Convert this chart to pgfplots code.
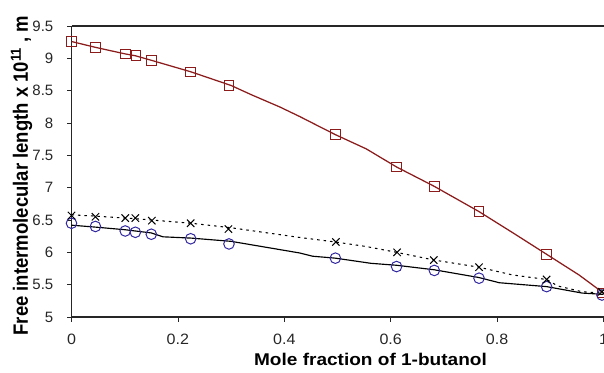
\documentclass[border=0pt]{standalone}
\usepackage{pgfplots}
\pgfplotsset{compat=1.18}
\usepackage{fontspec}
\setmainfont{Liberation Sans}
\definecolor{redline}{RGB}{140,28,28}
\definecolor{bluemark}{RGB}{50,40,160}
\begin{document}
\begin{tikzpicture}
\useasboundingbox (0,0) rectangle (604bp,373bp);
\begin{axis}[
  at={(71.5bp,56bp)}, anchor=south west,
  scale only axis, width=532bp, height=291bp,
  xmin=0, xmax=1, ymin=5, ymax=9.5,
  axis x line=bottom, axis y line=left,
  axis line style={-, line width=1.1bp, black!85},
  clip=false,
  xtick={0,0.2,0.4,0.6,0.8,1},
  ytick={5,5.5,6,6.5,7,7.5,8,8.5,9,9.5},
  tick align=outside, major tick length=4.5bp,
  tick style={line width=0.8bp, black!85},
  /pgf/number format/assume math mode=true,
  ticklabel style={font=\fontsize{15bp}{16bp}\selectfont, text=black!85},
  xticklabel={\scalebox{1.07}[1]{\pgfmathprintnumber{\tick}}},
  yticklabel={\scalebox{1.0}[1]{\pgfmathprintnumber{\tick}}},
  xticklabel style={anchor=north, inner sep=0pt, yshift=-12bp},
  yticklabel style={anchor=east, inner sep=0pt, xshift=-13.5bp},
  xlabel={\scalebox{1.12}[1]{\bfseries Mole fraction of 1-butanol}},
  xlabel style={font=\fontsize{17bp}{18bp}\selectfont, at={(axis description cs:0.562,-0.167)}, anchor=base, inner sep=0pt},
  ylabel={\scalebox{1}[1.12]{\bfseries Free intermolecular length x 10\textsuperscript{11} , m}},
  ylabel style={font=\fontsize{18.5bp}{19bp}\selectfont, at={(axis description cs:-0.0818,0.486)}, anchor=base, inner sep=0pt},
]
% red model line
\addplot[redline, line width=1.25bp] coordinates {
 (0,9.26) (0.045,9.17) (0.10,9.07) (0.12,9.04) (0.15,8.97) (0.225,8.79) (0.30,8.58)
 (0.34,8.43) (0.391,8.25) (0.429,8.10) (0.46,7.97) (0.496,7.82) (0.554,7.60) (0.611,7.32)
 (0.682,7.02) (0.766,6.63) (0.83,6.30) (0.893,5.97) (0.954,5.65) (1.0,5.37)};
% red squares
\addplot[only marks, mark=square, mark size=4.8bp, redline, line width=1bp] coordinates {
 (0,9.26) (0.045,9.17) (0.101,9.07) (0.121,9.04) (0.150,8.97) (0.224,8.79) (0.296,8.58)
 (0.496,7.82) (0.611,7.32) (0.682,7.02) (0.766,6.63) (0.893,5.97) (0.997,5.37)};
% solid black line
\addplot[black, line width=1.15bp] coordinates {
 (0,6.42) (0.045,6.39) (0.10,6.35) (0.15,6.30) (0.172,6.24) (0.225,6.22) (0.30,6.17)
 (0.429,5.99) (0.453,5.94) (0.496,5.91) (0.563,5.83) (0.611,5.80) (0.682,5.73)
 (0.766,5.61) (0.804,5.53) (0.893,5.47) (0.96,5.37) (1.0,5.35)};
% dotted black line
\addplot[black, line width=1.05bp, dash pattern=on 2.5bp off 4bp] coordinates {
 (0,6.58) (0.045,6.56) (0.10,6.53) (0.12,6.52) (0.15,6.50) (0.225,6.45) (0.30,6.38)
 (0.429,6.23) (0.496,6.16) (0.554,6.09) (0.611,6.00) (0.682,5.88) (0.766,5.77)
 (0.829,5.65) (0.893,5.58) (0.914,5.48) (0.96,5.39) (1.0,5.37)};
% circles
\addplot[only marks, mark=o, mark size=5.3bp, bluemark, line width=1bp] coordinates {
 (0,6.45) (0.045,6.40) (0.101,6.33) (0.120,6.31) (0.150,6.28) (0.224,6.21) (0.296,6.13)
 (0.496,5.91) (0.611,5.78) (0.682,5.72) (0.766,5.60) (0.893,5.47) (0.997,5.34)};
% crosses
\addplot[only marks, mark=x, mark size=5.2bp, black, line width=1bp] coordinates {
 (0,6.57) (0.045,6.55) (0.101,6.53) (0.120,6.53) (0.151,6.49) (0.224,6.45) (0.295,6.36)
 (0.497,6.16) (0.612,6.00) (0.681,5.88) (0.766,5.77) (0.893,5.58) (0.997,5.39)};
\draw[line width=1.1bp, black!85] (rel axis cs:0,1) -- (rel axis cs:1,1);
\end{axis}
\end{tikzpicture}
\end{document}
